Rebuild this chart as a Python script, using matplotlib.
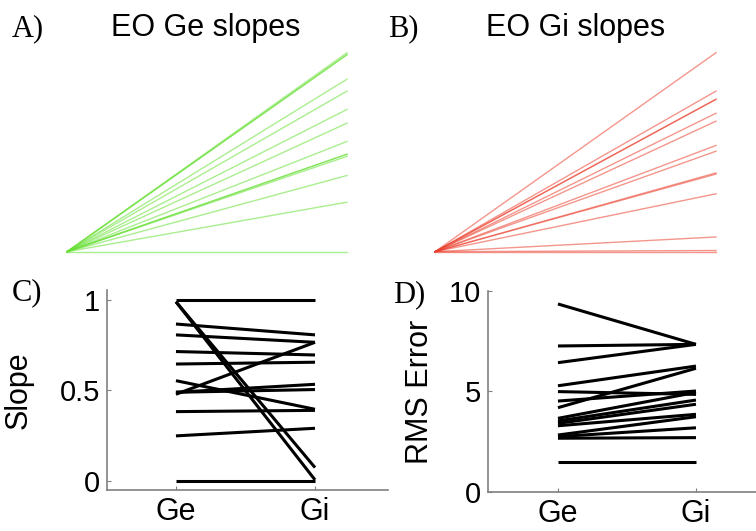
import matplotlib
matplotlib.use("Agg")
import matplotlib.pyplot as plt

# ---- data ----
ge_slope = [1.0, 0.99, 0.99, 0.867, 0.807, 0.715, 0.646, 0.554, 0.479, 0.49, 0.49, 0.383, 0.249, 0.0]
gi_slope = [1.0, 0.074, 0.006, 0.807, 0.766, 0.696, 0.656, 0.396, 0.766, 0.534, 0.505, 0.39, 0.291, 0.0]

ge_rms = [9.34, 7.25, 6.42, 5.27, 4.98, 4.51, 4.18, 3.65, 3.52, 3.40, 3.28, 2.82, 2.74, 2.66, 1.46]
gi_rms = [7.33, 7.33, 7.33, 6.25, 4.84, 5.01, 6.14, 4.94, 4.56, 4.35, 3.85, 3.73, 3.18, 2.69, 1.46]

conditions = ["Ge", "Gi"]
slope_ticks = [0, 0.5, 1]
slope_ticklabels = ["0", "0.5", "1"]
rms_ticks = [0, 5, 10]

W, H = 756, 531
fig = plt.figure(figsize=(W / 100, H / 100), dpi=100)
plt.rcParams['font.family'] = ['Liberation Sans', 'DejaVu Sans']

def ax_px(left, top, right, bottom):
    return fig.add_axes([left / W, 1 - bottom / H, (right - left) / W, (bottom - top) / H])

green = (0.40, 0.88, 0.20)
red = (0.92, 0.25, 0.18)

# Panel A
axA = ax_px(67, 52.7, 347, 251.7)
for s in ge_slope:
    axA.plot([0, 1], [0, s], color=green, alpha=0.55, lw=1.0, clip_on=False)
axA.set_xlim(0, 1); axA.set_ylim(0, 1); axA.axis('off')

# Panel B
axB = ax_px(435, 52.7, 716, 251.7)
for s in gi_slope:
    axB.plot([0, 1], [0, s], color=red, alpha=0.55, lw=1.0, clip_on=False)
axB.set_xlim(0, 1); axB.set_ylim(0, 1); axB.axis('off')

def style(ax):
    for sp in ['top', 'right']:
        ax.spines[sp].set_visible(False)
    for sp in ['left', 'bottom']:
        ax.spines[sp].set_color('#808080')
        ax.spines[sp].set_linewidth(1.2)
    ax.tick_params(direction='in', length=3, width=0.8, color='#808080',
                   labelsize=21, pad=5)
    ax.tick_params(axis='x', pad=5, labelsize=22)
    ax.set_xticks([1, 2])
    ax.set_xticklabels(conditions)

# Panel C
axC = ax_px(107, 290, 388, 490)
for a, b in zip(ge_slope, gi_slope):
    axC.plot([1, 2], [a, b], color='black', lw=2.2, solid_capstyle='butt', clip_on=False)
axC.set_xlim(0.504, 2.525); axC.set_ylim(-0.05, 1.055)
style(axC)
axC.set_yticks(slope_ticks); axC.set_yticklabels(slope_ticklabels)

# Panel D
axD = ax_px(488, 290.7, 756, 491.7)
for a, b in zip(ge_rms, gi_rms):
    axD.plot([1, 2], [a, b], color='black', lw=2.2, solid_capstyle='butt', clip_on=False)
axD.set_xlim(0.493, 2.435); axD.set_ylim(0, 10)
style(axD)
axD.set_yticks(rms_ticks)

# texts
def ftext(x, y, s, **kw):
    fig.text(x / W, 1 - y / H, s, **kw)

ftext(206, 36, "EO Ge slopes", ha='center', va='baseline', fontsize=22)
ftext(576, 36, "EO Gi slopes", ha='center', va='baseline', fontsize=22)
serif = ['Liberation Serif', 'DejaVu Serif']
ftext(12, 36, "A)", ha='left', va='baseline', fontsize=22, family=serif)
ftext(388, 36, "B)", ha='left', va='baseline', fontsize=22, family=serif)
ftext(12, 300, "C)", ha='left', va='baseline', fontsize=22, family=serif)
ftext(393, 302, "D)", ha='left', va='baseline', fontsize=22, family=serif)
ftext(19, 390, "Slope", ha='center', va='center', rotation=90, fontsize=22)
ftext(420, 392, "RMS Error", ha='center', va='center', rotation=90, fontsize=22)

fig.savefig("out.png", dpi=100)
